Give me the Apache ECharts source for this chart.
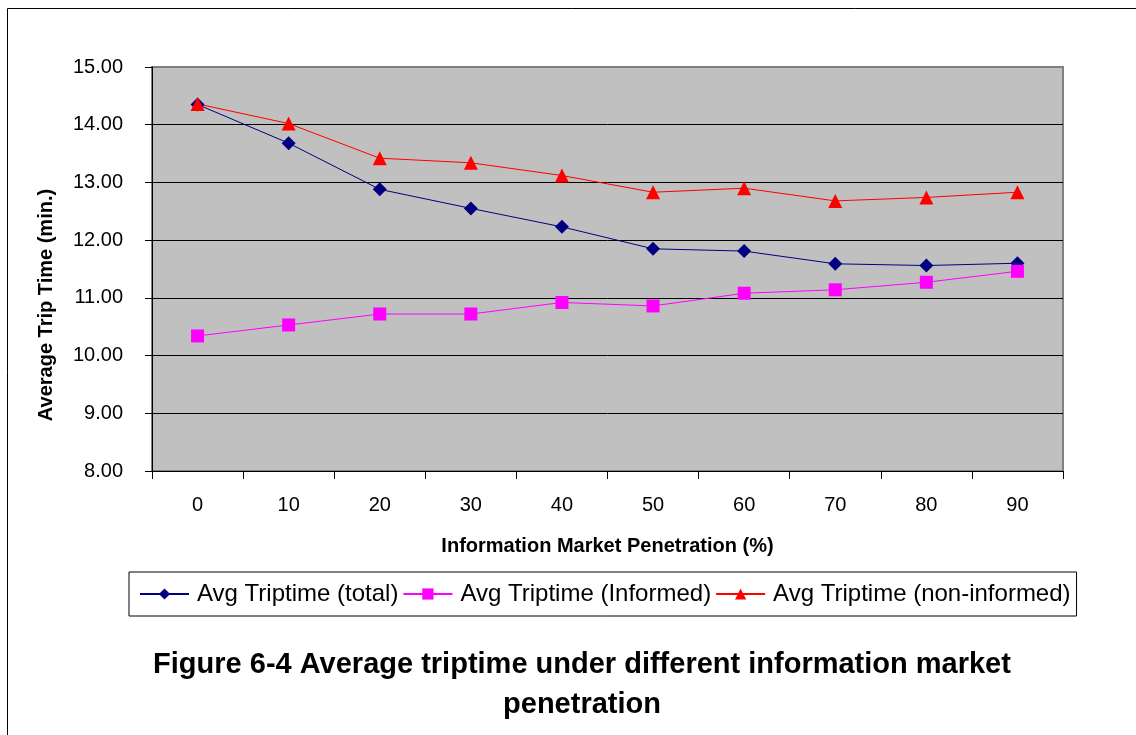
<!DOCTYPE html>
<html>
<head>
<meta charset="utf-8">
<script src="https://cdn.jsdelivr.net/npm/echarts@6/dist/echarts.min.js"></script>
<style>
html,body{margin:0;padding:0;background:#fff;}
#chart{width:1136px;height:735px;}
</style>
</head>
<body>
<div id="chart"></div>
<script>
const categories = ['0','10','20','30','40','50','60','70','80','90'];
const totalValues = [14.35, 13.68, 12.88, 12.55, 12.23, 11.85, 11.81, 11.59, 11.56, 11.60];
const informedValues = [10.34, 10.53, 10.72, 10.72, 10.92, 10.86, 11.08, 11.14, 11.27, 11.46];
const nonInformedValues = [14.36, 14.02, 13.42, 13.34, 13.12, 12.83, 12.90, 12.68, 12.74, 12.83];
const seriesNames = ['Avg Triptime (total)', 'Avg Triptime (Informed)', 'Avg Triptime (non-informed)'];
const xAxisTitle = 'Information Market Penetration (%)';
const yAxisTitle = 'Average Trip Time (min.)';
const chartTitle = 'Figure 6-4 Average triptime under different information market\npenetration';

const FONT = 'Liberation Sans, Arial, Helvetica, sans-serif';
const chart = echarts.init(document.getElementById('chart'), null, {renderer: 'canvas'});

chart.setOption({
  animation: false,
  backgroundColor: '#ffffff',
  title: {
    text: chartTitle,
    left: 577,
    top: 640,
    textAlign: 'center',
    textStyle: {fontFamily: FONT, fontWeight: 'bold', fontSize: 29, lineHeight: 40, color: '#000'}
  },
  graphic: [
    {type: 'rect', left: 5, top: 6, shape: {width: 1150, height: 750}, style: {fill: 'none', stroke: '#000', lineWidth: 1}, silent: true, z: -10},
    {type: 'text', x: 46, y: 305, rotation: Math.PI / 2,
     style: {text: yAxisTitle, font: 'bold 20px ' + FONT, fill: '#000', align: 'center', verticalAlign: 'middle'}}
  ],
  legend: {
    left: 129,
    top: 572,
    padding: [10, 6, 10, 10],
    borderColor: '#000',
    borderWidth: 1,
    itemWidth: 49,
    itemHeight: 14,
    itemGap: 4,
    textStyle: {fontFamily: FONT, fontSize: 24, color: '#000', padding: [0, 0, 0, 3]},
    data: seriesNames
  },
  grid: {
    left: 152, top: 67, right: 73, bottom: 264,
    show: true,
    backgroundColor: '#c0c0c0',
    borderColor: '#808080',
    borderWidth: 2
  },
  xAxis: {
    type: 'category',
    data: categories,
    boundaryGap: true,
    name: xAxisTitle,
    nameLocation: 'middle',
    nameGap: 65,
    nameTextStyle: {fontFamily: FONT, fontWeight: 'bold', fontSize: 20, color: '#000'},
    axisLine: {lineStyle: {color: '#000', width: 1}},
    axisTick: {show: true, length: 8, lineStyle: {color: '#000'}},
    axisLabel: {fontFamily: FONT, fontSize: 20, color: '#000', margin: 24}
  },
  yAxis: {
    type: 'value',
    min: 8,
    max: 15,
    interval: 1,
    axisLine: {show: true, lineStyle: {color: '#000', width: 1}},
    axisTick: {show: true, length: 7, lineStyle: {color: '#000'}},
    axisLabel: {fontFamily: FONT, fontSize: 20, color: '#000', margin: 29, formatter: v => v.toFixed(2)},
    splitLine: {show: true, lineStyle: {color: ['#000','#000','#000','#000','#000','#000','#000','#808080'], width: 1}}
  },
  series: [
    {name: seriesNames[0], type: 'line', data: totalValues, symbol: 'diamond', symbolSize: 14,
     itemStyle: {color: '#000080'}, lineStyle: {color: '#000080', width: 1}},
    {name: seriesNames[1], type: 'line', data: informedValues, symbol: 'rect', symbolSize: 13,
     itemStyle: {color: '#ff00ff'}, lineStyle: {color: '#ff00ff', width: 1}},
    {name: seriesNames[2], type: 'line', data: nonInformedValues, symbol: 'triangle', symbolSize: 14,
     itemStyle: {color: '#ff0000'}, lineStyle: {color: '#ff0000', width: 1}}
  ]
});
</script>
</body>
</html>
